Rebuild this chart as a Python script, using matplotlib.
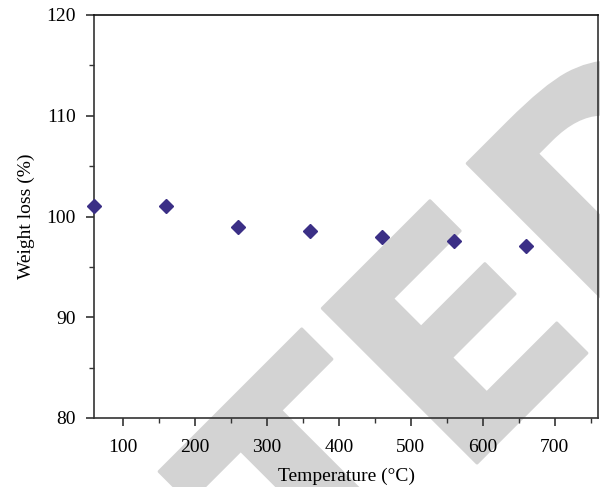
import matplotlib
matplotlib.use("Agg")
import matplotlib.pyplot as plt
import matplotlib.patheffects as pe
from matplotlib.ticker import MultipleLocator

temperature = [60, 160, 260, 360, 460, 560, 660]
weight_loss = [101.0, 101.0, 99.0, 98.6, 98.0, 97.6, 97.1]
x_ticks = [100, 200, 300, 400, 500, 600, 700]
y_ticks = [80, 90, 100, 110, 120]

plt.rcParams['font.family'] = ['Liberation Serif', 'DejaVu Serif']

fig = plt.figure(figsize=(6.0, 4.87), dpi=100)
ax = fig.add_axes([94/600, 69/487, 504/600, 403/487])
ax.patch.set_alpha(0)

# watermark
fig.text(778.5/600, 1 - 161.5/487, 'RETRACTED', fontsize=216, rotation=45,
         rotation_mode='anchor', ha='right', va='baseline', color='#d3d3d3',
         family='Liberation Sans Narrow', fontweight='bold', zorder=-1,
         path_effects=[pe.withStroke(linewidth=2.2, foreground='#d3d3d3')])

ax.plot(temperature, weight_loss, linestyle='none', marker='D', markersize=6.8,
        color='#3b2f86', clip_on=False, zorder=5)

ax.set_xlim(60, 760)
ax.set_ylim(80, 120)
ax.set_xticks(x_ticks)
ax.set_yticks(y_ticks)
ax.xaxis.set_minor_locator(MultipleLocator(50))
ax.yaxis.set_minor_locator(MultipleLocator(5))
ax.tick_params(which='major', direction='out', length=6, width=1.2, color='#333333',
               labelsize=14)
ax.tick_params(which='minor', direction='out', length=3.5, width=1.0, color='#333333')
ax.tick_params(axis='x', which='major', pad=9)
ax.tick_params(axis='y', which='major', pad=7)
for s in ax.spines.values():
    s.set_color('#333333')
    s.set_linewidth(1.2)
ax.spines['top'].set_color('#111111')

ax.set_xlabel('Temperature (°C)', fontsize=14, labelpad=8.5)
ax.set_ylabel('Weight loss (%)', fontsize=14, labelpad=8)

fig.savefig('out.png', dpi=100)
